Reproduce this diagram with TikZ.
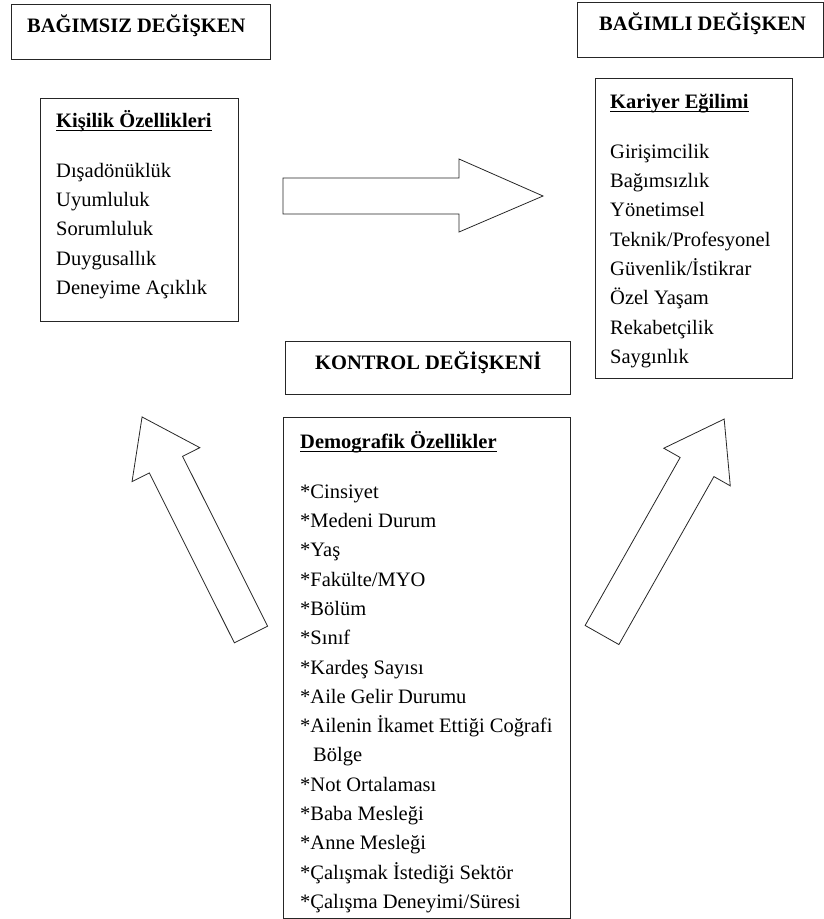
\documentclass[tikz,border=0pt]{standalone}
\usepackage{fontspec}
\setmainfont{Liberation Serif}
\usetikzlibrary{positioning}

% underline at a fixed depth, as a word processor does it
\newcommand{\ulword}[1]{\setbox0\hbox{#1}\rlap{\rule[-3.6pt]{\wd0}{1.1pt}}\box0}

\tikzset{
  box/.style={rectangle, draw=black!85, line width=1.1pt, inner sep=0pt, anchor=north west},
  headtext/.style={inner sep=0pt, font=\fontsize{20.5}{29.3}\selectfont\bfseries, text height=19pt, text depth=5pt},
  listtext/.style={inner sep=0pt, align=left, font=\fontsize{20.5}{29.3}\selectfont},
  blockarrow/.style={draw=black!85, line width=0.8pt, line join=miter}
}

\begin{document}
\begin{tikzpicture}[x=1pt, y=-1pt]
\useasboundingbox (0,0) rectangle (824,919);

% headings
\node [box, minimum width=259pt, minimum height=55pt] (indep) at (11,4) {};
\node [headtext, below right=9pt and 16pt of indep.north west] (indepT) {BAĞIMSIZ DEĞİŞKEN};
\node [box, minimum width=246pt, minimum height=55pt] (dep) at (577,2) {};
\node [headtext, below right=9pt and 22pt of dep.north west] (depT) {BAĞIMLI DEĞİŞKEN};
\node [box, minimum width=285pt, minimum height=53pt] (control) at (285,341) {};
\node [headtext, below right=9pt and 30pt of control.north west] (controlT) {KONTROL DEĞİŞKENİ};

% lists
\node [box, minimum width=198pt, minimum height=223pt] (kisilik) at (40,98) {};
\node [listtext, below right=10pt and 16pt of kisilik.north west] (kisilikT)
{\rule{0pt}{19pt}\textbf{\ulword{Kişilik Özellikleri}}\\[20.7pt]
Dışadönüklük\\ Uyumluluk\\ Sorumluluk\\ Duygusallık\\ Deneyime Açıklık};

\node [box, minimum width=197pt, minimum height=300pt] (kariyer) at (595,78) {};
\node [listtext, below right=11pt and 15pt of kariyer.north west] (kariyerT)
{\rule{0pt}{19pt}\textbf{\ulword{Kariyer Eğilimi}}\\[20.7pt]
Girişimcilik\\ Bağımsızlık\\ Yönetimsel\\ Teknik/Profesyonel\\ Güvenlik/İstikrar\\
Özel Yaşam\\ Rekabetçilik\\ Saygınlık};

\node [box, minimum width=287pt, minimum height=501pt] (demog) at (283,417) {};
\node [listtext, below right=12pt and 17pt of demog.north west] (demogT)
{\rule{0pt}{19pt}\textbf{\ulword{Demografik Özellikler}}\\[20.7pt]
*Cinsiyet\\ *Medeni Durum\\ *Yaş\\ *Fakülte/MYO\\ *Bölüm\\ *Sınıf\\
*Kardeş Sayısı\\ *Aile Gelir Durumu\\ *Ailenin İkamet Ettiği Coğrafi\\
\hspace*{13pt}Bölge\\ *Not Ortalaması\\ *Baba Mesleği\\ *Anne Mesleği\\
*Çalışmak İstediği Sektör\\ *Çalışma Deneyimi/Süresi};

% block arrows
\draw [blockarrow] (283,178) -- (459,178) -- (459,159) -- (543,196)
  -- (459,232) -- (459,214) -- (283,214) -- cycle;
\draw [blockarrow, shift={(251,634.5)}, rotate=116.6] (0,-18.6) -- (190,-18.6)
  -- (190,-37.9) -- (243.3,0) -- (190,37.9) -- (190,18.6) -- (0,18.6) -- cycle;
\draw [blockarrow, shift={(602,635)}, rotate=60.5] (0,-19.4) -- (193,-19.4)
  -- (193,-38.2) -- (248.1,0) -- (193,38.2) -- (193,19.4) -- (0,19.4) -- cycle;
\end{tikzpicture}
\end{document}
